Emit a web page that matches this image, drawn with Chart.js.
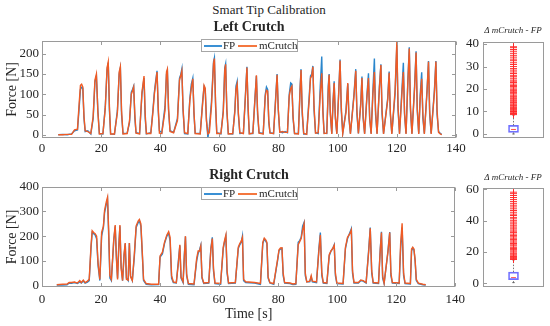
<!DOCTYPE html>
<html><head><meta charset="utf-8">
<script src="https://cdn.jsdelivr.net/npm/chart.js@4.4.0/dist/chart.umd.min.js"></script>
<style>
html,body{margin:0;padding:0;background:#fff;}
#wrap{position:relative;width:550px;height:326px;overflow:hidden;font-family:"Liberation Serif","Times New Roman",serif;color:#262626;}
canvas{position:absolute;}
.t{position:absolute;white-space:nowrap;transform:translate(-50%,-50%);line-height:1;}
.leg{position:absolute;left:201px;width:95px;height:11px;border:1px solid #a6a6a6;background:#fff;font-size:11px;}
.leg .ln{position:absolute;display:block;top:5px;height:2px;}
.leg .lb{position:absolute;top:-0.5px;line-height:11px;}
</style></head>
<body>
<div id="wrap">
<canvas id="cL" width="470" height="130" style="left:0;top:30px;width:470px;height:130px"></canvas>
<canvas id="cR" width="470" height="150" style="left:0;top:176px;width:470px;height:150px"></canvas>
<canvas id="bL" width="110" height="130" style="left:440px;top:30px;width:110px;height:130px"></canvas>
<canvas id="bR" width="110" height="130" style="left:440px;top:176px;width:110px;height:130px"></canvas>
<div class="t" style="left:269px;top:9px;font-size:13px;">Smart Tip Calibration</div>
<div class="t" style="left:249px;top:27px;font-size:14px;font-weight:bold;">Left Crutch</div>
<div class="t" style="left:249px;top:174.5px;font-size:14px;font-weight:bold;">Right Crutch</div>
<div class="t" style="left:513px;top:29.5px;font-size:9px;font-style:italic;">&Delta; mCrutch - FP</div>
<div class="t" style="left:513px;top:176.5px;font-size:9px;font-style:italic;">&Delta; mCrutch - FP</div>
<div class="leg" style="top:39px"><span class="ln" style="left:2px;width:18px;background:#3A90D4"></span><span class="lb" style="left:21px">FP</span><span class="ln" style="left:36px;width:19px;background:#F4773F"></span><span class="lb" style="left:57px">mCrutch</span></div>
<div class="leg" style="top:187px"><span class="ln" style="left:2px;width:18px;background:#3A90D4"></span><span class="lb" style="left:21px">FP</span><span class="ln" style="left:36px;width:19px;background:#F4773F"></span><span class="lb" style="left:57px">mCrutch</span></div>
</div>
<script>
// ---------- data ----------
const seriesNames = ['FP', 'mCrutch'];
const xTicks = [0, 20, 40, 60, 80, 100, 120, 140];
const leftYTicks = [0, 50, 100, 150, 200];
const rightYTicks = [0, 100, 200, 300, 400];
const leftBoxTicks = [0, 10, 20, 30, 40];
const rightBoxTicks = [0, 20, 40, 60];

const leftTime = [
  5.5, 7.0, 8.5, 10.0, 11.0, 12.0,
  12.5, 13.0, 13.4, 13.8, 14.2, 14.6, 15.5, 16.5,
  17.3, 17.9, 18.4, 18.9, 19.4, 20.6,
  21.4, 22.0, 22.4, 22.8, 23.2, 24.5,
  25.5, 26.1, 26.5, 26.9, 27.4, 28.8,
  29.6, 30.2, 30.6, 31.0, 31.4, 31.8, 33.0,
  33.8, 34.5, 34.9, 35.3, 36.8,
  37.5, 38.0, 38.4, 38.9, 39.3, 39.7, 40.5,
  41.6, 42.1, 42.4, 42.8, 43.3, 44.5,
  45.8, 46.5, 46.9, 47.3, 47.7, 48.2, 49.3,
  50.0, 50.5, 51.0, 51.4, 51.8, 53.5,
  54.3, 54.8, 55.2, 55.6, 56.1, 56.6,
  57.3, 58.0, 58.3, 58.7, 59.1, 60.5,
  61.3, 61.8, 62.1, 62.5, 63.0, 64.5,
  65.2, 65.6, 66.0, 66.4, 66.9, 68.1,
  68.8, 69.3, 69.7, 70.1, 71.3,
  72.0, 72.5, 72.9, 73.4, 74.8,
  75.5, 75.9, 76.3, 76.7, 77.1, 78.3,
  79.0, 79.5, 79.9, 80.4, 81.3, 82.2, 83.0,
  83.6, 84.1, 84.5, 84.9, 85.4, 86.7,
  87.3, 87.6, 88.0, 88.5, 89.5,
  90.4, 90.8, 91.2, 91.6, 92.0, 92.5, 93.4,
  94.1, 94.6, 95.0, 95.4, 96.3,
  96.8, 97.1, 97.5, 98.0,
  98.4, 98.8, 99.2, 99.7,
  100.3, 100.8, 101.2, 101.7,
  102.8, 103.4, 103.8, 104.3,
  105.5, 106.1, 106.5, 107.0,
  107.8, 108.2, 108.6, 109.1,
  109.9, 110.4, 110.8, 111.3,
  111.9, 112.4, 112.8, 113.3,
  114.1, 114.6, 115.0, 115.5,
  116.9, 117.4, 117.8, 118.3,
  119.4, 120.0, 120.4, 120.9,
  121.7, 122.2, 122.6, 123.1,
  123.7, 124.2, 124.6, 125.1,
  126.0, 126.5, 126.9, 127.4,
  127.9, 128.4, 128.8, 129.3,
  130.2, 130.7, 131.1, 131.6,
  132.7, 133.2, 133.6, 134.1, 134.7, 135.2
];
const leftFP = [
  0, 1, 0, 2, 10, 12,
  60, 112, 117, 115, 40, 8, 10, 2,
  40, 130, 145, 60, 3, 2,
  70, 160, 178, 60, 2, 1,
  60, 150, 165, 50, 3, 4,
  30, 105, 112, 120, 40, 5, 3,
  100, 140, 40, 2, 5,
  60, 105, 130, 158, 60, 10, 5,
  70, 150, 158, 60, 10, 6,
  40, 140, 148, 163, 60, 3, 2,
  90, 125, 140, 50, 4, 3,
  80, 118, 110, 40, -8, 20,
  80, 180, 190, 70, 5, 2,
  60, 165, 175, 60, 3, 2,
  60, 120, 132, 50, 3, 4,
  100, 168, 60, 3, 3,
  90, 145, 50, 5, 3,
  100, 118, 112, 30, 5, 3,
  90, 150, 60, 8, 5, 8, 5,
  100, 128, 125, 40, 3, 3,
  120, 162, 50, 2, 2,
  100, 145, 150, 170, 60, 5, 3,
  120, 193, 60, 4, 3,
  120, 150, 50, 3,
  80, 132, 40, 3,
  100, 186, 60, 4,
  60, 125, 40, 3,
  100, 162, 50, 3,
  80, 144, 40, 3,
  100, 152, 40, 3,
  110, 188, 50, 3,
  120, 174, 50, 3,
  90, 156, 50, 3,
  100, 222, 60, 3,
  110, 178, 50, 3,
  130, 216, 60, 3,
  120, 206, 60, 3,
  100, 154, 40, 3,
  110, 182, 50, 3,
  110, 182, 50, 8, 3, 1
];
const leftMC = [
  0, 0, 1, 1, 12, 14,
  70, 122, 125, 118, 45, 10, 8, 3,
  45, 135, 150, 55, 2, 3,
  65, 165, 180, 70, 2, 2,
  55, 155, 168, 60, 2, 3,
  35, 100, 108, 118, 50, 4, 2,
  105, 145, 50, 3, 3,
  55, 100, 125, 155, 70, 4, 3,
  60, 155, 162, 65, 8, 5,
  35, 135, 145, 158, 65, 5, 3,
  85, 115, 138, 55, 3, 2,
  75, 122, 115, 35, 2, 5,
  70, 175, 188, 80, 3, 3,
  55, 160, 174, 65, 2, 3,
  55, 112, 125, 55, 5, 3,
  95, 166, 70, 2, 4,
  85, 147, 60, 4, 2,
  95, 110, 108, 35, 4, 3,
  85, 148, 65, 6, 8, 6, 6,
  95, 115, 120, 45, 3, 2,
  115, 160, 60, 3, 1,
  90, 140, 145, 168, 70, 4, 5,
  100, 152, 55, 3, 4,
  110, 148, 55, 2,
  75, 128, 45, 2,
  95, 183, 70, 3,
  55, 128, 45, 2,
  95, 158, 60, 3,
  75, 140, 45, 2,
  95, 140, 45, 2,
  100, 155, 60, 2,
  115, 172, 60, 2,
  85, 153, 55, 2,
  110, 231, 70, 2,
  100, 155, 55, 2,
  125, 213, 70, 2,
  115, 203, 65, 2,
  90, 138, 50, 2,
  105, 180, 60, 2,
  105, 181, 60, 6, 2, 0
];

const rightTime = [
  5.0, 7.0, 8.5, 9.2, 10.0, 11.0, 12.0, 12.8, 13.3, 14.0, 14.6, 15.4, 16.0,
  16.6, 17.0, 17.5, 18.0, 18.5, 19.0, 19.6,
  20.2, 20.8, 21.2, 21.8, 22.2, 22.6, 23.0, 23.5,
  24.3, 24.8, 25.2, 25.6,
  26.0, 26.4, 26.8, 27.3,
  27.8, 28.2, 28.6, 29.2,
  29.6, 30.0, 30.6,
  31.3, 31.9, 32.6, 33.0, 33.5, 34.0, 34.4, 35.3, 37.0, 39.5,
  40.0, 40.8, 41.5, 42.3, 42.9, 43.4, 43.9, 44.5, 45.5,
  46.2, 46.7, 47.1, 47.8,
  48.2, 48.6, 49.0, 49.6, 51.5,
  52.4, 52.9, 53.4, 53.8, 54.2, 54.8, 56.5,
  57.2, 57.7, 58.1, 58.6, 60.5,
  61.4, 61.8, 62.3, 62.7, 63.2, 65.5,
  66.5, 67.0, 67.5, 67.9, 68.3, 69.0, 72.0, 74.0,
  74.8, 75.3, 75.8, 76.2, 76.6, 77.2, 78.5,
  79.8, 80.3, 80.8, 81.3, 81.7, 82.2, 84.0, 85.0, 86.0,
  86.8, 87.3, 87.8, 88.3, 88.8, 89.2, 89.7, 90.7, 91.2, 91.6, 93.0,
  93.8, 94.3, 94.8, 95.3, 96.5,
  97.3, 97.9, 98.5, 99.0, 99.4, 99.9, 102.0,
  102.8, 103.5, 104.3, 104.8, 105.2, 105.7, 107.2, 108.0, 108.8, 109.8,
  110.7, 111.2, 111.7, 112.2, 114.0,
  114.6, 115.0, 115.4, 115.9,
  117.2, 117.8, 118.2, 118.7, 121.0,
  121.5, 122.0, 122.5, 123.0, 124.8,
  125.2, 125.6, 126.0, 126.4, 126.8, 127.5, 129.0, 130.0
];
const rightFP = [
  2, 2, 3, 10, 9, 12, 8, 15, 10, 18, 10, 14, 20,
  150, 215, 210, 205, 190, 80, 20,
  200, 235, 295, 330, 350, 200, 30, 20,
  180, 240, 120, 30,
  160, 240, 80, 20,
  120, 170, 30, 20,
  172, 40, 20,
  120, 235, 255, 262, 240, 120, 20, 5, 3, 4,
  115, 128, 170, 200, 212, 180, 30, 12, 10,
  100, 162, 30, 12,
  120, 198, 40, 5, 3,
  100, 130, 145, 163, 30, 8, 10,
  150, 195, 60, 8, 5,
  150, 175, 200, 50, 8, 10,
  150, 165, 175, 200, 20, 12, 10, 5,
  170, 188, 180, 170, 30, 10, 5,
  100, 142, 148, 150, 40, 10, 8, 4, 5,
  175, 182, 195, 240, 256, 40, 15, 15, 35, 15, 12,
  150, 215, 40, 10, 8,
  120, 140, 150, 165, 40, 8, 6,
  150, 190, 215, 230, 50, 10, 10, 20, 18, 10,
  150, 235, 50, 10, 8,
  150, 218, 30, 8,
  140, 217, 40, 10, 8,
  150, 235, 40, 8, 6,
  140, 152, 145, 100, 20, 8, 3, 2
];
const rightMC = [
  3, 5, 6, 12, 12, 14, 10, 20, 12, 22, 12, 18, 25,
  160, 222, 215, 210, 200, 90, 25,
  215, 240, 305, 340, 358, 220, 40, 25,
  185, 245, 110, 25,
  150, 245, 70, 20,
  128, 172, 25, 22,
  172, 35, 20,
  130, 242, 262, 268, 250, 130, 25, 8, 5, 5,
  120, 135, 175, 205, 218, 195, 40, 15, 12,
  90, 165, 35, 15,
  110, 200, 45, 8, 6,
  110, 140, 140, 160, 35, 10, 12,
  145, 190, 70, 10, 8,
  155, 180, 205, 60, 10, 12,
  155, 170, 180, 195, 25, 15, 12, 8,
  175, 192, 185, 175, 35, 12, 8,
  105, 145, 152, 153, 50, 12, 10, 6, 8,
  165, 178, 190, 225, 250, 50, 15, 18, 40, 18, 15,
  140, 205, 50, 12, 10,
  125, 140, 150, 163, 50, 10, 8,
  155, 195, 210, 225, 60, 12, 12, 22, 20, 12,
  140, 232, 60, 12, 10,
  145, 215, 40, 10,
  135, 215, 50, 12, 10,
  170, 252, 50, 10, 8,
  148, 155, 148, 105, 25, 10, 5, 3
];

// box statistics: [lower whisker, q1, median, q3, upper whisker]
const leftBoxStats = [0, 0.7, 2.0, 3.8, 8.4];
const rightBoxStats = [0.4, 2.3, 3.6, 7.1, 14.9];
const leftOutliers = [8.6, 8.9, 9.1, 9.4, 9.8, 10.0, 10.3, 10.7, 11.0, 11.4, 11.7, 12.1, 12.6, 12.9, 13.3, 13.8, 14.1, 14.6, 15.0, 15.5, 15.9, 16.4, 16.8, 17.3, 17.9, 18.4, 18.8, 19.4, 19.9, 20.5, 21.1, 21.6, 22.2, 22.9, 23.5, 24.0, 24.8, 25.5, 26.1, 26.9, 27.6, 28.4, 29.1, 30.0, 30.9, 31.7, 32.6, 33.3, 34.2, 35.0, 35.9, 36.8, 37.6, 38.4, 38.8];
const rightOutliers = [15.2, 15.8, 16.5, 17.1, 17.9, 18.6, 19.2, 20.0, 20.7, 21.5, 22.2, 23.0, 23.9, 24.6, 25.4, 26.3, 27.1, 28.0, 28.8, 29.7, 30.5, 31.4, 32.4, 33.3, 34.1, 35.2, 36.0, 37.1, 38.0, 39.1, 40.0, 41.2, 42.1, 43.3, 44.2, 45.4, 46.5, 47.6, 48.8, 49.9, 51.1, 52.3, 53.6, 54.8, 56.1, 57.3, 58.2];

// ---------- styles ----------
const FONT = '"Liberation Serif", "Times New Roman", serif';
const FP_COLOR = '#2A86CC';
const MC_COLOR = '#EF5B25';
const FRAME = '#9a9a9a';
const TXT = '#262626';

// red "+" marker image
const crossImg = document.createElement('canvas');
crossImg.width = 7; crossImg.height = 7;
(function () {
  const c = crossImg.getContext('2d');
  c.fillStyle = 'rgba(255,40,40,0.95)';
  c.fillRect(3, 0, 1, 7);
  c.fillRect(0, 3, 7, 1);
})();

const framePlugin = {
  id: 'frame',
  afterDraw(chart, args, opts) {
    const {ctx, chartArea: a, scales} = chart;
    ctx.save();
    ctx.strokeStyle = FRAME;
    ctx.lineWidth = 1;
    const l = Math.round(a.left) + 0.5, r = Math.round(a.right) - 0.5;
    const t = Math.round(a.top) + 0.5, b = Math.round(a.bottom) - 0.5;
    ctx.strokeRect(l, t, r - l, b - t);
    const L = 3.5;
    ctx.beginPath();
    if (opts.xTicks) {
      scales.x.ticks.forEach(tk => {
        const px = Math.round(scales.x.getPixelForValue(tk.value)) + 0.5;
        ctx.moveTo(px, b); ctx.lineTo(px, b - L);
        ctx.moveTo(px, t); ctx.lineTo(px, t + L);
      });
    }
    scales.y.ticks.forEach(tk => {
      const py = Math.round(scales.y.getPixelForValue(tk.value)) + 0.5;
      ctx.moveTo(l, py); ctx.lineTo(l + L, py);
      if (opts.rightTicks) { ctx.moveTo(r, py); ctx.lineTo(r - L, py); }
    });
    ctx.stroke();
    ctx.restore();
  }
};

function toPts(time, vals) { return time.map((t, i) => ({x: t, y: vals[i]})); }

function lineChart(id, time, fp, mc, yMin, yMax, yTicks, pad, xH, xTitle, xPad) {
  return new Chart(document.getElementById(id), {
    type: 'line',
    data: {datasets: [
      {label: seriesNames[0], data: toPts(time, fp), borderColor: FP_COLOR, borderWidth: 1.4, pointRadius: 0, order: 2},
      {label: seriesNames[1], data: toPts(time, mc), borderColor: MC_COLOR, borderWidth: 1.4, pointRadius: 0, order: 1}
    ]},
    options: {
      responsive: false, animation: false, devicePixelRatio: 1, events: [],
      layout: {padding: pad},
      plugins: {legend: {display: false}, tooltip: {enabled: false}, frame: {xTicks: true, rightTicks: true}},
      scales: {
        x: {type: 'linear', min: 0, max: 140,
            grid: {display: false, drawTicks: false}, border: {display: false},
            afterBuildTicks: s => { s.ticks = xTicks.map(v => ({value: v})); },
            afterFit: s => { s.height = xH; },
            ticks: {font: {family: FONT, size: 13}, color: TXT, padding: xPad, maxRotation: 0, autoSkip: false},
            title: {display: !!xTitle, text: xTitle || '', font: {family: FONT, size: 14}, color: TXT, padding: {top: 0, bottom: 3}}},
        y: {type: 'linear', min: yMin, max: yMax,
            grid: {display: false, drawTicks: false}, border: {display: false},
            afterBuildTicks: s => { s.ticks = yTicks.map(v => ({value: v})); },
            afterFit: s => { s.width = 42; },
            ticks: {font: {family: FONT, size: 13}, color: TXT, padding: 3},
            title: {display: true, text: 'Force [N]', font: {family: FONT, size: 14}, color: TXT, padding: {top: 4, bottom: 2}}}
      }
    },
    plugins: [framePlugin]
  });
}

function boxChart(id, stats, outliers, yMin, yMax, yTicks, pad) {
  const [lo, q1, med, q3, hi] = stats;
  const thin = {pointRadius: 0, borderWidth: 1, fill: false};
  return new Chart(document.getElementById(id), {
    type: 'scatter',
    data: {datasets: [
      {type: 'scatter', label: 'outliers', data: outliers.map(v => ({x: 1, y: v})), pointStyle: crossImg, pointRadius: 3, showLine: false},
      {type: 'line', data: [{x: 1, y: q3}, {x: 1, y: hi}], borderColor: '#777', borderDash: [1.5, 1.5], ...thin},
      {type: 'line', data: [{x: 1, y: lo}, {x: 1, y: q1}], borderColor: '#777', borderDash: [1.5, 1.5], ...thin},
      {type: 'line', data: [{x: 0.93, y: lo}, {x: 1.07, y: lo}], borderColor: '#444', ...thin},
      {type: 'line', data: [{x: 0.93, y: hi}, {x: 1.07, y: hi}], borderColor: '#444', ...thin},
      {type: 'bar', data: [{x: 1, y: [q1, q3]}], borderColor: '#7070ff', borderWidth: 1, borderSkipped: false, backgroundColor: 'rgba(0,0,0,0)', barThickness: 10},
      {type: 'line', data: [{x: 0.84, y: med}, {x: 1.16, y: med}], borderColor: '#ff5050', ...thin}
    ]},
    options: {
      responsive: false, animation: false, devicePixelRatio: 1, events: [],
      layout: {padding: pad},
      plugins: {legend: {display: false}, tooltip: {enabled: false}, frame: {xTicks: false, rightTicks: false}},
      scales: {
        x: {type: 'linear', min: 0, max: 2, display: false},
        y: {type: 'linear', min: yMin, max: yMax,
            grid: {display: false, drawTicks: false}, border: {display: false},
            afterBuildTicks: s => { s.ticks = yTicks.map(v => ({value: v})); },
            afterFit: s => { s.width = 43; },
            ticks: {font: {family: FONT, size: 13}, color: TXT, padding: 4}}
      }
    },
    plugins: [framePlugin]
  });
}

lineChart('cL', leftTime, leftFP, leftMC, -8, 232, leftYTicks, {top: 5, right: 14, left: 0, bottom: 0}, 22, null, 3);
lineChart('cR', rightTime, rightFP, rightMC, -6, 400, rightYTicks, {top: 6, right: 14, left: 0, bottom: 0}, 39, 'Time [s]', 5);
boxChart('bL', leftBoxStats, leftOutliers, -1.8, 41, leftBoxTicks, {top: 4, right: 6, left: 0, bottom: 22});
boxChart('bR', rightBoxStats, rightOutliers, -2.4, 61, rightBoxTicks, {top: 7, right: 6, left: 0, bottom: 19});
</script>
</body></html>
